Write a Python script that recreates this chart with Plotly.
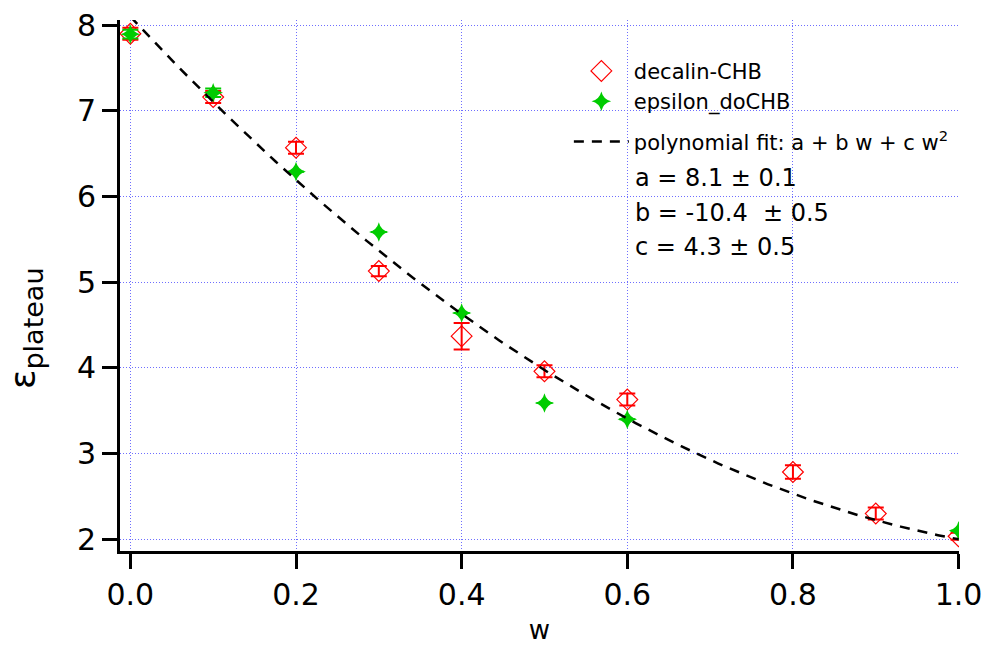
import numpy as np
import plotly.graph_objects as go

# composition (weight fraction)
w_decalin = [0.0, 0.1, 0.2, 0.3, 0.4, 0.5, 0.6, 0.8, 0.9, 1.0]
eps_decalin = [7.90, 7.16, 6.57, 5.13, 4.37, 3.96, 3.63, 2.785, 2.30, 2.035]
err_decalin = [0.07, 0.07, 0.07, 0.06, 0.155, 0.07, 0.07, 0.08, 0.07, 0.04]

w_doCHB = [0.0, 0.1, 0.2, 0.3, 0.4, 0.5, 0.6, 1.0]
eps_doCHB = [7.895, 7.21, 6.29, 5.585, 4.64, 3.59, 3.40, 2.10]
err_doCHB = [0.05, 0.05, 0, 0, 0, 0, 0, 0]

# polynomial fit parameters: a + b w + c w^2
fit_a, fit_b, fit_c = 8.1, -10.4, 4.3
fit_err = {"a": 0.1, "b": 0.5, "c": 0.5}

x_ticks = [0.0, 0.2, 0.4, 0.6, 0.8, 1.0]
y_ticks = [2, 3, 4, 5, 6, 7, 8]

w_fit = np.linspace(0.0, 1.0, 201)
eps_fit = fit_a + fit_b * w_fit + fit_c * w_fit ** 2

FONT = "DejaVu Sans"
RED = "#ff0000"
GREEN = "#00cc00"
GRID = "rgb(110,110,255)"

fig = go.Figure()

fig.add_trace(go.Scatter(
    x=w_decalin, y=eps_decalin, mode="markers", name="decalin-CHB",
    marker=dict(symbol="diamond-open", size=16, color=RED, line=dict(width=1.2, color=RED)),
    error_y=dict(type="data", array=err_decalin, color=RED, thickness=2, width=8),
    legendgroup="data",
))
fig.add_trace(go.Scatter(
    x=w_doCHB, y=eps_doCHB, mode="markers", name="epsilon_doCHB",
    marker=dict(symbol="star-diamond", size=14, color=GREEN, line=dict(width=0)),
    error_y=dict(type="data", array=err_doCHB, color=GREEN, thickness=2, width=8),
    legendgroup="data",
))
fig.add_trace(go.Scatter(
    x=w_fit, y=eps_fit, mode="lines",
    name="polynomial fit: a + b w + c w<sup>2</sup>",
    line=dict(color="black", width=2.5, dash="10px,8px"),
    legendgroup="fit",
))

params = [
    f"a = {fit_a} ± {fit_err['a']}",
    f"b = {fit_b}  ± {fit_err['b']}",
    f"c = {fit_c} ± {fit_err['c']}",
]
for i, txt in enumerate(params):
    fig.add_annotation(
        xref="paper", yref="paper", x=0.612, y=0.702 - i * 0.065,
        xanchor="left", yanchor="middle", showarrow=False,
        text=txt, font=dict(family=FONT, size=24, color="black"),
    )

# y-axis label drawn as a rotated annotation
fig.add_annotation(
    xref="paper", yref="paper", x=-0.112, y=0.42,
    xanchor="center", yanchor="middle", showarrow=False, textangle=-90,
    text="ε<sub><span style='font-size:27px'>plateau</span></sub>",
    font=dict(family=FONT, size=36, color="black"),
)

axis_common = dict(
    showline=True, linecolor="black", linewidth=3, mirror=False,
    ticks="outside", ticklen=15, tickwidth=3, tickcolor="black",
    showgrid=True, gridcolor=GRID, gridwidth=1, griddash="1px,2px",
    zeroline=False, tickfont=dict(family=FONT, size=30, color="black"),
    automargin=False,
)

fig.update_xaxes(
    range=[-0.0125, 1.0005], tickvals=x_ticks, tickformat=".1f",
    title=dict(text="w", font=dict(family=FONT, size=26, color="black"), standoff=10),
    **axis_common,
)
fig.update_yaxes(
    range=[1.863, 8.06], tickvals=y_ticks,
    **axis_common,
)

fig.update_layout(
    width=989, height=658,
    margin=dict(l=120, r=30, t=20, b=107),
    plot_bgcolor="white", paper_bgcolor="white",
    font=dict(family=FONT, color="black"),
    legend=dict(
        x=0.535, y=0.942, xanchor="left", yanchor="top",
        bgcolor="rgba(0,0,0,0)", borderwidth=0,
        font=dict(family=FONT, size=21, color="black"),
        itemwidth=55, traceorder="grouped", tracegroupgap=10,
    ),
)

fig.write_html("out.html")
